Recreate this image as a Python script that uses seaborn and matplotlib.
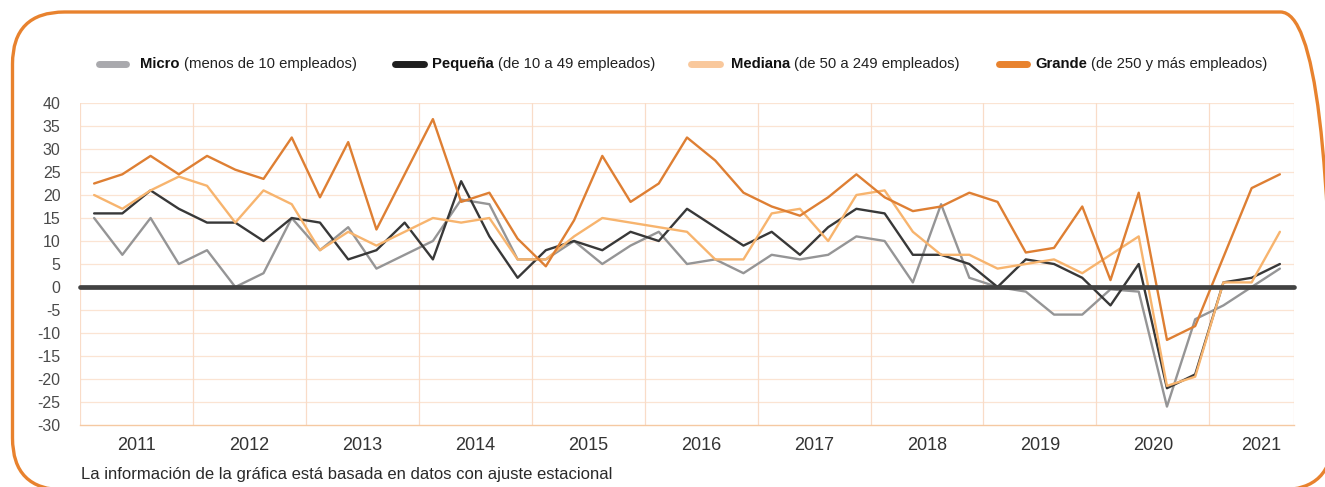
import matplotlib
matplotlib.use("Agg")
import matplotlib.pyplot as plt
import numpy as np
import pandas as pd
import seaborn as sns
from matplotlib.patches import FancyBboxPatch
from matplotlib.lines import Line2D

# ---------------- data ----------------
years = [str(y) for y in range(2011, 2022)]
quarters = [f"{y}-T{q}" for y in range(2011, 2022) for q in range(1, 5)][:43]

micro = [15, 7, 15, 5, 8, 0, 3, 15, 8, 13, 4, 7, 10, 19, 18, 6, 6, 10, 5, 9, 12, 5,
         6, 3, 7, 6, 7, 11, 10, 1, 18, 2, 0, -1, -6, -6, -0.5, -1, -26, -7, -4, 0, 4]
pequena = [16, 16, 21, 17, 14, 14, 10, 15, 14, 6, 8, 14, 6, 23, 11, 2, 8, 10, 8, 12, 10, 17,
           13, 9, 12, 7, 13, 17, 16, 7, 7, 5, 0, 6, 5, 2, -4, 5, -22, -19, 1, 2, 5]
mediana = [20, 17, 21, 24, 22, 14, 21, 18, 8, 12, 9, 12, 15, 14, 15, 6, 6, 11, 15, 14, 13, 12,
           6, 6, 16, 17, 10, 20, 21, 12, 7, 7, 4, 5, 6, 3, 7, 11, -21.5, -19.5, 1, 1, 12]
grande = [22.5, 24.5, 28.5, 24.5, 28.5, 25.5, 23.5, 32.5, 19.5, 31.5, 12.5, 24.5, 36.5, 18.5,
          20.5, 10.5, 4.5, 14.5, 28.5, 18.5, 22.5, 32.5, 27.5, 20.5, 17.5, 15.5, 19.5, 24.5,
          19.5, 16.5, 17.5, 20.5, 18.5, 7.5, 8.5, 17.5, 1.5, 20.5, -11.5, -8.5, 6.5, 21.5, 24.5]

series_names = ["Micro", "Pequeña", "Mediana", "Grande"]
series_desc = ["(menos de 10 empleados)", "(de 10 a 49 empleados)",
               "(de 50 a 249 empleados)", "(de 250 y más empleados)"]
y_ticks = list(range(-30, 41, 5))

# ---------------- style ----------------
line_colors = {"Micro": "#959596", "Pequeña": "#383838", "Mediana": "#F7B46E", "Grande": "#DE7F33"}
legend_colors = {"Micro": "#A9A9AD", "Pequeña": "#1E1E1E", "Mediana": "#F9C89C", "Grande": "#E8822E"}

sns.set_style("white")
plt.rcParams["font.family"] = ["Liberation Sans", "DejaVu Sans"]

df = pd.DataFrame({
    "idx": np.tile(np.arange(len(quarters)), 4),
    "valor": micro + pequena + mediana + grande,
    "serie": np.repeat(series_names, len(quarters)),
})

W, H = 1325, 487
fig = plt.figure(figsize=(W / 100, H / 100), dpi=100)

# background overlay in pixel coordinates (y measured from top via H - y)
bg = fig.add_axes([0, 0, 1, 1], zorder=-5)
bg.set_xlim(0, W)
bg.set_ylim(0, H)
bg.axis("off")
frame = FancyBboxPatch((12.5, H - 490), 1320, 478, boxstyle="round,pad=0,rounding_size=52",
                       fill=False, edgecolor="#E8822E", linewidth=2.4, clip_on=False)
bg.add_patch(frame)

ax = fig.add_axes([80 / W, 1 - 425 / H, (1294 - 80) / W, (425 - 103) / H])
ax.set_facecolor("none")

sns.lineplot(data=df, x="idx", y="valor", hue="serie", hue_order=series_names,
             palette=line_colors, legend=False, linewidth=1.7, ax=ax, zorder=3)

n = len(quarters)
ax.set_xlim(-0.5, n - 0.5)
ax.set_ylim(-30, 40)

# horizontal grid
for v in y_ticks[1:]:
    ax.axhline(v, color="#FBE4D3", lw=0.9, zorder=1)
# vertical year separators
for k in range(0, 11):
    ax.axvline(-0.5 + 4 * k, color="#F9DCC8", lw=0.9, zorder=1)
ax.axvline(n - 0.5, color="#F9DCC8", lw=0.9, zorder=1)

# zero line
ax.axhline(0, color="#424242", lw=3.4, solid_capstyle="round", zorder=5, clip_on=False)

for s in ["top", "right", "left"]:
    ax.spines[s].set_visible(False)
ax.spines["bottom"].set_color("#F5C9A2")
ax.spines["bottom"].set_linewidth(1.0)

ax.set_yticks(y_ticks)
ax.set_yticklabels([str(v) for v in y_ticks], fontsize=11.5, color="#4A4A4A")
xt = [1.5 + 4 * k for k in range(10)] + [41.35]
ax.set_xticks(xt)
ax.set_xticklabels(years, fontsize=13, color="#333333")
ax.tick_params(axis="both", length=0)
ax.tick_params(axis="y", pad=14)
ax.tick_params(axis="x", pad=9)
ax.set_xlabel("")
ax.set_ylabel("")

# legend (manual)
renderer = fig.canvas.get_renderer()
leg_handles_x = [(99, 126), (395, 424), (691, 720), (999, 1027)]
leg_text_x = [140, 432, 731, 1035]
ly = H - 64
for name, desc, (hx0, hx1), tx in zip(series_names, series_desc, leg_handles_x, leg_text_x):
    bg.add_line(Line2D([hx0, hx1], [ly, ly], color=legend_colors[name], lw=5.0,
                       solid_capstyle="round"))
    t = bg.text(tx, ly, name, fontsize=10.7, fontweight="bold", color="#111111",
                va="center", ha="left")
    bb = t.get_window_extent(renderer=renderer)
    bg.text(bb.x1 + 4, ly, desc, fontsize=10.7, color="#222222", va="center", ha="left")

bg.text(81, H - 474, "La información de la gráfica está basada en datos con ajuste estacional",
        fontsize=12, color="#2A2A2A", va="center", ha="left")

fig.savefig("out.png", dpi=100)
